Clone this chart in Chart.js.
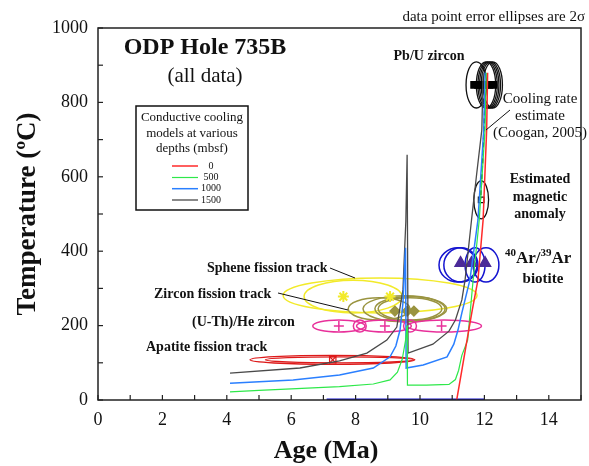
<!DOCTYPE html>
<html>
<head>
<meta charset="utf-8">
<script src="https://cdn.jsdelivr.net/npm/chart.js@4.4.1/dist/chart.umd.min.js"></script>
<style>
  html, body { margin: 0; padding: 0; background: #fff; }
</style>
</head>
<body>
<canvas id="c" width="589" height="466"></canvas>
<script>
// ─── Data ───
const depths = ['0', '500', '1000', '1500'];

// conductive cooling models, [age Ma, temperature °C]
const cool0 = [[11.14,0],[11.3,80],[11.46,161],[11.62,240],[11.8,323],[11.96,484],[12.07,726],[12.1,880]];
const cool500 = [[4.1,22],[5,26],[6,30],[7.5,36],[8.55,43],[9.07,54],[9.3,75],[9.45,110],[9.55,160],[9.6,200],
  [9.61,40],[10.2,40],[10.9,42],[11.1,55],[11.2,80],[11.3,120],[11.48,161],[11.65,323],[11.84,484],[12.02,726],[12.06,880]];
const cool1000 = [[4.1,45],[6.06,54],[7.5,67],[8.55,86],[9.07,116],[9.25,145],[9.38,188],[9.47,260],[9.55,409],
  [9.57,86],[10.1,94],[10.84,116],[11.05,150],[11.18,188],[11.3,234],[11.55,323],[11.8,484],[11.98,726],[12.02,880]];
const cool1500 = [[4.1,72],[6.27,86],[7.5,105],[8.35,126],[8.97,161],[9.28,196],[9.47,296],[9.56,480],[9.6,659],
  [9.63,126],[10.4,150],[10.9,185],[11.1,215],[11.3,269],[11.4,323],[11.6,484],[11.75,600],[11.92,726],[11.96,880]];

// cooling rate estimate (Coogan, 2005)
const coolRate = [[12.02,800],[11.95,650],[11.88,540]];

// age range bar along the base
const baseBar = [[7.1,0],[12.0,0]];

// Pb/U zircon
const pbuAge = [11.75, 12.05, 12.1, 12.15, 12.2, 12.26];
const pbuAgeErr = [0.32, 0.3, 0.3, 0.3, 0.3, 0.3];
const pbuTemp = 847, pbuTempErr = 62;
const pbuPts = [11.68, 11.8, 11.92, 12.04, 12.16, 12.28];

// estimated magnetic anomaly
const magAge = [11.9], magAgeErr = [0.23], magTemp = 538, magTempErr = 51;

// 40Ar/39Ar biotite
const arAge = [11.18, 11.27, 11.71, 12.05];
const arAgeErr = [0.59, 0.53, 0.31, 0.4];
const arTemp = 363, arTempErr = 46;
const arPts = [11.26, 11.6, 12.02], arPtTemp = 368;

// sphene fission track
const sphAge = [8.76, 7.92], sphAgeErr = [3.01, 1.52];
const sphTemp = [281, 278], sphTempErr = [47, 44];
const sphPts = [7.62, 9.07], sphPtTemp = 278;

// zircon fission track
const zftAge = [8.73, 9.53, 9.69, 9.69], zftAgeErr = [0.96, 1.3, 1.09, 0.99];
const zftTemp = 245, zftTempErr = [30, 35, 33, 30];
const zftPts = [9.22, 9.6, 9.81], zftPtTemp = 239;

// (U-Th)/He zircon
const heAge = [7.48, 8.13, 8.88, 9.69, 10.75], heAgeErr = [0.81, 0.2, 0.85, 0.2, 1.16];
const heTemp = 199, heTempErr = 16;
const hePts = [7.48, 8.91, 10.67];

// apatite fission track
const aftAge = [7.28, 7.5], aftAgeErr = [2.56, 2.3];
const aftTemp = 108, aftTempErr = [12, 8];
const aftPts = [7.29];

const xTicks = [0, 2, 4, 6, 8, 10, 12, 14];
const yTicks = [0, 200, 400, 600, 800, 1000];

// ─── Styles ───
const serif = "'Liberation Serif', 'Times New Roman', serif";
const C = {
  red: '#ff2a2a', green: '#2ee84a', blue: '#2a7fff', black: '#4a4a4a',
  navy: '#1414d0', purple: '#4b2a98', yellow: '#f2ea2a', olive: '#9a9440',
  magenta: '#e8309a', apatite: '#dd1a1a'
};

const xy = arr => arr.map(p => ({ x: p[0], y: p[1] }));
const pts = (ages, t) => ages.map(a => ({ x: a, y: t }));

function curve(label, data, color, width, extra = {}) {
  return { type: 'line', label, data: xy(data), borderColor: color, borderWidth: width,
    pointRadius: 0, fill: false, tension: 0, ...extra };
}
function marks(data, style, color, r, filled = true, bw = 1.3) {
  return { type: 'scatter', data, pointStyle: style, pointRadius: r, pointHoverRadius: r,
    borderColor: color, backgroundColor: filled ? color : 'rgba(0,0,0,0)', pointBorderWidth: bw, borderWidth: bw };
}

// ─── Ellipses + annotations ───
function ellipses(chart, ages, ageErr, temps, tempErr, color, lw = 1.3) {
  const { ctx, scales: { x, y } } = chart;
  ctx.save();
  ctx.strokeStyle = color;
  ctx.lineWidth = lw;
  ages.forEach((a, i) => {
    const t = Array.isArray(temps) ? temps[i] : temps;
    const te = Array.isArray(tempErr) ? tempErr[i] : tempErr;
    const cx = x.getPixelForValue(a), cy = y.getPixelForValue(t);
    const rx = Math.abs(x.getPixelForValue(a + ageErr[i]) - cx);
    const ry = Math.abs(y.getPixelForValue(t + te) - cy);
    ctx.beginPath();
    ctx.ellipse(cx, cy, rx, ry, 0, 0, Math.PI * 2);
    ctx.stroke();
  });
  ctx.restore();
}

function txt(ctx, s, x, y, font, align = 'left', color = '#111') {
  ctx.font = font;
  ctx.fillStyle = color;
  ctx.textAlign = align;
  ctx.textBaseline = 'middle';
  ctx.fillText(s, x, y);
}
function seg(ctx, x1, y1, x2, y2, color = '#111', w = 1) {
  ctx.beginPath();
  ctx.strokeStyle = color;
  ctx.lineWidth = w;
  ctx.moveTo(x1, y1);
  ctx.lineTo(x2, y2);
  ctx.stroke();
}

const errorEllipses = {
  id: 'errorEllipses',
  beforeDatasetsDraw(chart) {
    ellipses(chart, pbuAge, pbuAgeErr, pbuTemp, pbuTempErr, '#111');
    ellipses(chart, magAge, magAgeErr, magTemp, magTempErr, '#111');
    ellipses(chart, arAge, arAgeErr, arTemp, arTempErr, C.navy, 1.5);
    ellipses(chart, sphAge, sphAgeErr, sphTemp, sphTempErr, C.yellow, 1.5);
    ellipses(chart, zftAge, zftAgeErr, zftTemp, zftTempErr, C.olive, 1.5);
    ellipses(chart, heAge, heAgeErr, heTemp, heTempErr, C.magenta, 1.5);
    ellipses(chart, aftAge, aftAgeErr, aftTemp, aftTempErr, C.apatite, 1.3);
  },
  afterDraw(chart) {
    const { ctx, chartArea: a, scales: { x, y } } = chart;
    ctx.save();
    // frame
    ctx.strokeStyle = '#222';
    ctx.lineWidth = 1.5;
    ctx.strokeRect(a.left, a.top, a.right - a.left, a.bottom - a.top);
    // inward ticks
    for (let v = 0; v <= 15; v++) {
      const px = x.getPixelForValue(v);
      seg(ctx, px, a.bottom, px, a.bottom - 5, '#222', 1.2);
    }
    for (let v = 0; v <= 1000; v += 100) {
      const py = y.getPixelForValue(v);
      seg(ctx, a.left, py, a.left + 5, py, '#222', 1.2);
    }

    const B = s => `bold ${s}px ${serif}`;
    const R = s => `${s}px ${serif}`;
    txt(ctx, 'Age (Ma)', 326, 451, B(26), 'center');
    txt(ctx, 'data point error ellipses are 2σ', 585, 17, R(15), 'right');
    txt(ctx, 'ODP Hole 735B', 205, 48, B(24), 'center');
    txt(ctx, '(all data)', 205, 76, R(21), 'center');

    // legend box
    ctx.fillStyle = '#fff';
    ctx.fillRect(136, 106, 112, 104);
    ctx.strokeStyle = '#111';
    ctx.lineWidth = 1.5;
    ctx.strokeRect(136, 106, 112, 104);
    txt(ctx, 'Conductive cooling', 192, 118, R(13), 'center');
    txt(ctx, 'models at various', 192, 134, R(13), 'center');
    txt(ctx, 'depths (mbsf)', 192, 149, R(13), 'center');
    const legY = [166, 177.5, 188.7, 200];
    chart.data.datasets.slice(0, 4).forEach((d, i) => {
      seg(ctx, 172, legY[i], 198, legY[i], d.borderColor, d.borderWidth);
      txt(ctx, depths[i], 211, legY[i], R(10), 'center');
    });

    txt(ctx, 'Pb/U zircon', 429, 56, B(14), 'center');
    txt(ctx, 'Cooling rate', 540, 99, R(15), 'center');
    txt(ctx, 'estimate', 540, 116, R(15), 'center');
    txt(ctx, '(Coogan, 2005)', 540, 133, R(15), 'center');
    seg(ctx, 510, 110, 486, 130, '#111', 1);

    txt(ctx, 'Estimated', 540, 179, B(14), 'center');
    txt(ctx, 'magnetic', 540, 197, B(14), 'center');
    txt(ctx, 'anomaly', 540, 214, B(14), 'center');

    // 40Ar/39Ar
    let cx = 505;
    const parts = [['40', 11, -6], ['Ar/', 17, 0], ['39', 11, -6], ['Ar', 17, 0]];
    parts.forEach(([s, sz, dy]) => {
      txt(ctx, s, cx, 259 + dy, B(sz), 'left');
      cx += ctx.measureText(s).width;
    });
    txt(ctx, 'biotite', 543, 279, B(15), 'center');

    txt(ctx, 'Sphene fission track', 207, 268, B(14), 'left');
    seg(ctx, 330, 268, 355, 278, '#111', 1);
    txt(ctx, 'Zircon fission track', 154, 294, B(14), 'left');
    seg(ctx, 278, 293, 348, 310, '#111', 1);
    txt(ctx, '(U-Th)/He zircon', 192, 322, B(14), 'left');
    txt(ctx, 'Apatite fission track', 146, 347, B(14), 'left');
    ctx.restore();
  }
};

// ─── Chart ───
const axisTitle = { family: serif, size: 27, weight: 'bold' };
const tickFont = { family: serif, size: 18 };

new Chart(document.getElementById('c'), {
  type: 'scatter',
  data: {
    datasets: [
      curve('0', cool0, C.red, 1.5),
      curve('500', cool500, C.green, 1.2),
      curve('1000', cool1000, C.blue, 1.5),
      curve('1500', cool1500, C.black, 1.3),
      curve('rate', coolRate, '#111', 1.5, { borderDash: [5, 3] }),
      curve('base', baseBar, C.navy, 3),
      marks(pts(pbuPts, pbuTemp), 'rect', '#000', 4.5),
      marks(pts(magAge, magTemp), 'rect', '#111', 4, false, 1.2),
      marks(pts(arPts, arPtTemp), 'triangle', C.purple, 6.5),
      marks(pts(sphPts, sphPtTemp), 'star', C.yellow, 5.5, false, 2),
      marks(pts(zftPts, zftPtTemp), 'rectRot', C.olive, 5),
      marks(pts(hePts, heTemp), 'cross', C.magenta, 5, false, 1.5),
      marks(pts(aftPts, aftTemp), 'rect', C.apatite, 4.5, false, 1.2),
      marks(pts(aftPts, aftTemp), 'crossRot', C.apatite, 5, false, 1.2)
    ]
  },
  options: {
    responsive: false,
    animation: false,
    events: [],
    layout: { padding: { top: 28, right: 8, left: 0, bottom: 0 } },
    plugins: { legend: { display: false }, tooltip: { enabled: false } },
    scales: {
      x: {
        type: 'linear', min: 0, max: 15,
        afterFit: s => { s.height = 66; },
        afterBuildTicks: s => { s.ticks = xTicks.map(v => ({ value: v })); },
        grid: { display: false, tickLength: 0 },
        border: { display: false },
        ticks: { font: tickFont, color: '#111', padding: 9, maxRotation: 0, callback: v => String(v) }
      },
      y: {
        type: 'linear', min: 0, max: 1000,
        afterFit: s => { s.width = 98; },
        afterBuildTicks: s => { s.ticks = yTicks.map(v => ({ value: v })); },
        grid: { display: false, tickLength: 0 },
        border: { display: false },
        ticks: { font: tickFont, color: '#111', padding: 10, callback: v => String(v) },
        title: { display: true, text: 'Temperature (ºC)', font: axisTitle, color: '#111', padding: { top: 12 } }
      }
    }
  },
  plugins: [errorEllipses]
});
</script>
</body>
</html>
